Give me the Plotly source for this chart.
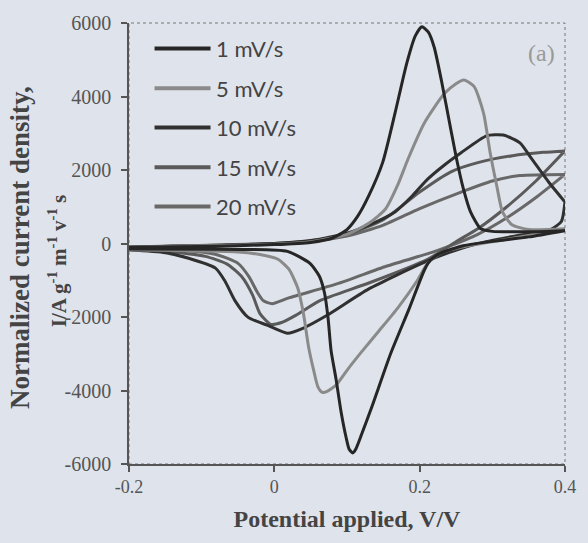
import plotly.graph_objects as go

# ---- data ----
rates = ["1 mV/s", "5 mV/s", "10 mV/s", "15 mV/s", "20 mV/s"]

fwd_x_1 = [-0.2, -0.1, 0.0, 0.05, 0.08, 0.10, 0.115, 0.13, 0.149, 0.166, 0.182, 0.194, 0.203, 0.212, 0.220, 0.230, 0.243, 0.251, 0.260, 0.270, 0.284, 0.30, 0.35, 0.40]
fwd_y_1 = [-100, -80, -30, 30, 150, 380, 750, 1300, 2200, 3540, 4890, 5650, 5900, 5750, 5340, 4430, 3090, 2280, 1500, 860, 400, 330, 320, 350]
rev_x_1 = [0.40, 0.35, 0.30, 0.26, 0.23, 0.215, 0.207, 0.185, 0.16, 0.135, 0.12, 0.112, 0.108, 0.103, 0.099, 0.092, 0.085, 0.078, 0.074, 0.069, 0.062, 0.049, 0.018, -0.05, -0.2]
rev_y_1 = [350, 180, 60, -60, -250, -450, -700, -1800, -3000, -4400, -5200, -5600, -5700, -5600, -5300, -4600, -3700, -2900, -2040, -1340, -890, -540, -215, -160, -150]

fwd_x_5 = [-0.2, 0.0, 0.05, 0.10, 0.13, 0.153, 0.17, 0.184, 0.207, 0.234, 0.25, 0.261, 0.275, 0.288, 0.297, 0.306, 0.314, 0.327, 0.35, 0.40]
fwd_y_5 = [-100, -20, 50, 250, 550, 940, 1600, 2300, 3300, 4080, 4350, 4450, 4270, 3540, 2470, 1580, 860, 510, 380, 400]
rev_x_5 = [0.40, 0.33, 0.27, 0.23, 0.211, 0.197, 0.17, 0.143, 0.12, 0.10, 0.085, 0.072, 0.066, 0.060, 0.054, 0.047, 0.040, 0.032, 0.020, 0.005, -0.02, -0.05, -0.2]
rev_y_5 = [400, 150, -50, -250, -540, -1000, -1750, -2400, -2950, -3450, -3850, -4030, -4050, -3900, -3440, -2800, -1900, -1200, -700, -430, -300, -230, -170]

fwd_x_10 = [-0.2, 0.0, 0.05, 0.10, 0.13, 0.166, 0.19, 0.211, 0.235, 0.257, 0.292, 0.315, 0.338, 0.355, 0.378, 0.40]
fwd_y_10 = [-100, 0, 80, 280, 500, 860, 1300, 1750, 2150, 2470, 2930, 2950, 2740, 2280, 1660, 1130]
rev_x_10 = [0.40, 0.395, 0.38, 0.33, 0.28, 0.24, 0.203, 0.13, 0.072, 0.04, 0.018, -0.009, -0.036, -0.054, -0.068, -0.081, -0.118, -0.15, -0.2]
rev_y_10 = [1130, 600, 380, 200, 0, -250, -540, -1235, -1960, -2300, -2440, -2230, -2010, -1560, -1020, -670, -400, -250, -170]

fwd_x_15 = [-0.2, 0.0, 0.05, 0.10, 0.15, 0.20, 0.243, 0.28, 0.328, 0.37, 0.40]
fwd_y_15 = [-100, 0, 70, 250, 650, 1400, 1950, 2200, 2390, 2480, 2520]
rev_x_15 = [0.40, 0.36, 0.32, 0.28, 0.25, 0.211, 0.13, 0.062, 0.03, 0.01, -0.005, -0.02, -0.03, -0.045, -0.065, -0.095, -0.15, -0.2]
rev_y_15 = [2520, 1700, 1000, 400, 50, -430, -1075, -1560, -1950, -2150, -2200, -1900, -1400, -900, -560, -350, -220, -170]

fwd_x_20 = [-0.2, 0.0, 0.05, 0.10, 0.15, 0.20, 0.257, 0.30, 0.338, 0.40]
fwd_y_20 = [-100, 0, 60, 200, 500, 950, 1400, 1700, 1850, 1880]
rev_x_20 = [0.40, 0.36, 0.32, 0.28, 0.24, 0.22, 0.154, 0.086, 0.02, -0.003, -0.015, -0.023, -0.035, -0.05, -0.08, -0.12, -0.2]
rev_y_20 = [1880, 1250, 700, 250, -80, -220, -620, -1100, -1480, -1640, -1560, -1340, -900, -540, -300, -200, -160]

y_tickvals = [6000, 4000, 2000, 0, -2000, -4000, -6000]
y_ticktext = ["6000", "4000", "2000", "0", "-2000", "-4000", "-6000"]
x_tickvals = [-0.2, 0, 0.2, 0.4]
x_ticktext = ["-0.2", "0", "0.2", "0.4"]

series = {
    "1 mV/s": (fwd_x_1 + rev_x_1, fwd_y_1 + rev_y_1),
    "5 mV/s": (fwd_x_5 + rev_x_5, fwd_y_5 + rev_y_5),
    "10 mV/s": (fwd_x_10 + rev_x_10, fwd_y_10 + rev_y_10),
    "15 mV/s": (fwd_x_15 + rev_x_15, fwd_y_15 + rev_y_15),
    "20 mV/s": (fwd_x_20 + rev_x_20, fwd_y_20 + rev_y_20),
}
colors = {"1 mV/s": "#262626", "5 mV/s": "#8a8a8a", "10 mV/s": "#303030",
          "15 mV/s": "#5a5a5a", "20 mV/s": "#686868"}

BG = "#dfe3eb"
fig = go.Figure()
for name in reversed(rates):
    xs, ys = series[name]
    fig.add_trace(go.Scatter(x=xs, y=ys, mode="lines", name=name,
                             line=dict(color=colors[name], width=3, shape="spline", smoothing=0.6),
                             showlegend=False, hoverinfo="skip"))

serif = "Liberation Serif"
fig.update_layout(
    width=588, height=543,
    margin=dict(l=129, r=15, t=17, b=79),
    paper_bgcolor=BG, plot_bgcolor=BG,
    xaxis=dict(range=[-0.2, 0.4], tickvals=x_tickvals, ticktext=x_ticktext,
               showgrid=False, zeroline=False, showline=True, linecolor="#555", linewidth=1.5,
               ticks="outside", ticklen=6, tickcolor="#555", tickwidth=1.5,
               tickfont=dict(family=serif, size=18, color="#555"),
               title=dict(text="<b>Potential applied, V/V</b>", font=dict(family=serif, size=24, color="#444"), standoff=14)),
    yaxis=dict(range=[-6000, 6000], tickvals=y_tickvals, ticktext=y_ticktext,
               showgrid=False, zeroline=False, showline=True, linecolor="#555", linewidth=1.5,
               ticks="outside", ticklen=6, tickcolor="#555", tickwidth=1.5,
               tickfont=dict(family=serif, size=20, color="#555"), ticklabelstandoff=6),
)
# dotted frame top/right
fig.add_shape(type="rect", xref="paper", yref="paper", x0=0, y0=0, x1=1, y1=1,
              line=dict(color="#777", width=1, dash="dot"), layer="below")

# y title (two rotated lines)
fig.add_annotation(text="<b>Normalized current density,</b>", xref="paper", yref="paper",
                   x=-0.25, y=0.49, xanchor="center", yanchor="middle", textangle=-90, showarrow=False,
                   font=dict(family=serif, size=27, color="#444"))
fig.add_annotation(text="<b>I/A g<sup>-1</sup> m<sup>-1</sup> v<sup>-1</sup> s</b>", xref="paper", yref="paper",
                   x=-0.165, y=0.46, xanchor="center", yanchor="middle", textangle=-90, showarrow=False,
                   font=dict(family=serif, size=21, color="#444"))
# panel label
fig.add_annotation(text="(a)", xref="paper", yref="paper", x=0.945, y=0.931, xanchor="center",
                   yanchor="middle", showarrow=False,
                   font=dict(family=serif, size=24, color="#999"))

# manual legend
leg_y = [0.942, 0.852, 0.763, 0.673, 0.584]
for name, yy in zip(rates, leg_y):
    fig.add_shape(type="line", xref="paper", yref="paper", x0=0.0586, x1=0.187, y0=yy, y1=yy,
                  line=dict(color=colors[name], width=4))
    fig.add_annotation(text=name, xref="paper", yref="paper", x=0.196, y=yy, xanchor="left",
                       yanchor="middle", showarrow=False,
                       font=dict(family="Lato", size=22, color="#444"))

fig.write_html("out.html")
